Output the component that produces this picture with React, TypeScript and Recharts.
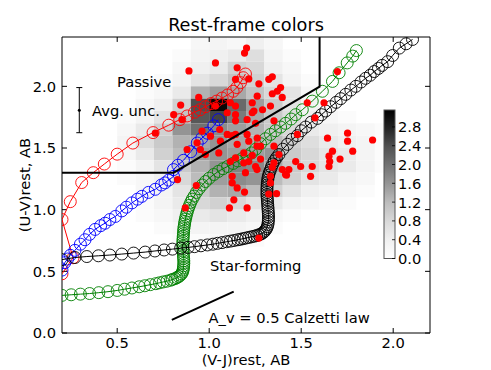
import {
  ScatterChart,
  XAxis,
  YAxis,
  Scatter,
  ReferenceArea,
  ReferenceLine,
  ErrorBar,
} from "recharts";

const FONT = "DejaVu Sans";

const xTicks = [0.5, 1.0, 1.5, 2.0];
const yTicks = [0.0, 0.5, 1.0, 1.5, 2.0];
const xDomain = [0.2, 2.2];
const yDomain = [0, 2.4];
const cbarTicks = [0.0, 0.4, 0.8, 1.2, 1.6, 2.0, 2.4, 2.8];
const cbarMax = 3.16;

// 2D histogram: lower cell edges, cell size 0.1
const histX = [0.5, 0.6, 0.7, 0.8, 0.9, 1.0, 1.1, 1.2, 1.3, 1.4, 1.5, 1.6, 1.7, 1.8, 1.9];
const histY = [2.3, 2.2, 2.1, 2.0, 1.9, 1.8, 1.7, 1.6, 1.5, 1.4, 1.3, 1.2, 1.1, 1.0, 0.9, 0.8, 0.7];
const histCounts = [
  [0, 0, 0, 0, 0.2, 0.3, 0.2, 0.4, 0.2, 0, 0, 0, 0, 0, 0],
  [0, 0, 0, 0.1, 0.3, 0.4, 0.5, 0.7, 0.3, 0.1, 0, 0, 0, 0, 0],
  [0, 0, 0, 0.2, 0.4, 0.5, 0.9, 0.8, 0.4, 0.2, 0, 0, 0, 0, 0],
  [0, 0, 0.1, 0.3, 0.6, 0.8, 1.1, 0.9, 0.6, 0.3, 0.1, 0, 0, 0, 0],
  [0, 0.1, 0.2, 0.5, 1.3, 1.5, 1.4, 1.1, 0.8, 0.6, 0.2, 0.1, 0, 0, 0],
  [0, 0.2, 0.4, 0.9, 2.4, 3.1, 2.1, 1.5, 1.0, 0.6, 0.3, 0.1, 0, 0, 0],
  [0.1, 0.3, 0.6, 1.1, 2.3, 2.5, 1.9, 1.4, 1.0, 0.7, 0.4, 0.2, 0.1, 0, 0],
  [0.2, 0.5, 0.9, 1.6, 2.0, 1.7, 1.5, 1.3, 1.0, 0.8, 0.5, 0.4, 0.3, 0.2, 0.1],
  [0.3, 0.7, 1.0, 1.3, 1.4, 1.6, 1.4, 1.3, 1.2, 0.9, 0.7, 0.5, 0.4, 0.3, 0.1],
  [0.2, 0.5, 0.9, 1.2, 1.5, 1.6, 1.5, 1.5, 1.6, 1.0, 0.8, 0.6, 0.5, 0.3, 0.1],
  [0.1, 0.3, 0.6, 1.0, 1.3, 1.6, 1.8, 1.7, 1.4, 1.0, 0.8, 0.6, 0.5, 0.3, 0.1],
  [0.1, 0.2, 0.4, 0.8, 1.2, 1.5, 1.7, 1.6, 1.2, 0.9, 0.6, 0.5, 0.3, 0.2, 0],
  [0, 0.2, 0.3, 0.6, 1.0, 1.3, 1.4, 1.2, 0.9, 0.6, 0.4, 0.3, 0.2, 0.1, 0],
  [0, 0.1, 0.3, 0.5, 0.8, 0.9, 0.8, 0.6, 0.5, 0.3, 0.2, 0.1, 0.1, 0, 0],
  [0, 0.1, 0.2, 0.4, 0.5, 0.6, 0.5, 0.4, 0.2, 0.1, 0, 0, 0, 0, 0],
  [0, 0, 0.1, 0.2, 0.3, 0.3, 0.3, 0.2, 0.1, 0, 0, 0, 0, 0, 0],
  [0, 0, 0, 0.1, 0.1, 0.2, 0.1, 0.1, 0, 0, 0, 0, 0, 0, 0],
];

// red galaxies
const galaxies = [
  [1.203, 2.31], [1.192, 2.27], [1.034, 2.19], [0.89, 2.125], [1.152, 2.15],
  [1.215, 2.06], [1.27, 2.02], [1.143, 2.057], [0.943, 1.91], [0.845, 1.848],
  [0.807, 1.77], [1.115, 1.867], [1.143, 1.84], [1.098, 1.786], [1.143, 1.77],
  [1.234, 1.867], [1.243, 1.8], [0.852, 1.73], [0.961, 1.637], [1.007, 1.596],
  [1.057, 1.65], [1.098, 1.61], [0.934, 1.542], [0.952, 1.488], [0.88, 1.488],
  [0.979, 1.447], [1.061, 1.555], [1.143, 1.61], [1.206, 1.61], [1.215, 1.555],
  [1.26, 1.515], [1.188, 1.46], [1.234, 1.44], [1.052, 1.46], [0.707, 1.62],
  [1.034, 1.84], [1.206, 1.73], [1.234, 1.786], [1.143, 1.72], [1.324, 2.057],
  [1.343, 2.077], [1.388, 1.99], [1.37, 1.96], [1.397, 1.91], [1.343, 1.94],
  [1.261, 1.92], [1.333, 1.84], [1.29, 1.81], [1.697, 2.12], [1.533, 1.867],
  [1.624, 1.867], [1.575, 1.745], [1.252, 1.7], [1.352, 1.72], [1.261, 1.58],
  [1.479, 1.61], [1.643, 1.58], [1.752, 1.62], [1.752, 1.555], [1.888, 1.565],
  [1.67, 1.474], [1.651, 1.434], [1.78, 1.474], [1.379, 1.447], [1.125, 1.6],
  [1.152, 1.53], [1.279, 1.515], [1.352, 1.515], [1.352, 1.38], [1.655, 1.39],
  [1.651, 1.35], [1.56, 1.35], [1.497, 1.35], [1.433, 1.325], [1.333, 1.27],
  [1.26, 1.325], [1.188, 1.38], [1.143, 1.42], [1.115, 1.39], [1.215, 1.39],
  [1.252, 1.35], [1.279, 1.41], [1.343, 1.344], [1.397, 1.325], [1.415, 1.285],
  [1.47, 1.39], [1.551, 1.27], [1.711, 1.41], [1.125, 1.27], [1.152, 1.176],
  [1.192, 1.143], [1.125, 1.217], [1.134, 1.08], [1.333, 1.217], [1.324, 1.127],
  [1.366, 1.13], [1.27, 0.77], [1.206, 1.014], [1.11, 1.014], [0.87, 1.014],
  [0.828, 1.244], [0.93, 1.195], [1.197, 1.3], [1.42, 1.28],
];

// model tracks
const redTrack = [
  [0.2, 0.48], [0.26, 0.61], [0.2, 0.92], [0.245, 1.065], [0.307, 1.22],
  [0.37, 1.3], [0.43, 1.37], [0.5, 1.45], [0.585, 1.54], [0.695, 1.625],
  [0.78, 1.685], [0.84, 1.73], [0.88, 1.76], [0.92, 1.79], [0.95, 1.81],
  [0.98, 1.835], [1.01, 1.86], [1.04, 1.88], [1.07, 1.905], [1.1, 1.93],
  [1.13, 1.96], [1.15, 1.99], [1.17, 2.03], [1.185, 2.07], [1.197, 2.1],
];

const blueTrack = [
  [0.2, 0.51], [0.215, 0.57], [0.23, 0.6], [0.245, 0.63], [0.27, 0.67],
  [0.3, 0.72], [0.325, 0.756], [0.35, 0.8], [0.38, 0.84], [0.41, 0.87],
  [0.434, 0.89], [0.46, 0.92], [0.49, 0.945], [0.525, 0.99], [0.55, 1.02],
  [0.58, 1.055], [0.61, 1.085], [0.634, 1.108], [0.67, 1.14], [0.707, 1.165],
  [0.74, 1.2], [0.76, 1.217], [0.78, 1.24], [0.806, 1.27], [0.806, 1.325],
  [0.83, 1.36], [0.86, 1.4], [0.9, 1.47], [0.935, 1.54], [0.96, 1.58],
  [0.99, 1.62], [1.025, 1.68], [1.05, 1.73],
];

const greenTrack = [
  [0.2, 0.305], [0.25, 0.31], [0.3, 0.315], [0.35, 0.32], [0.4, 0.327],
  [0.45, 0.335], [0.5, 0.345], [0.54, 0.355], [0.58, 0.365], [0.62, 0.375],
  [0.65, 0.383], [0.68, 0.392], [0.71, 0.4], [0.73, 0.407], [0.75, 0.414],
  [0.77, 0.42], [0.79, 0.428], [0.8, 0.434], [0.815, 0.441], [0.825, 0.449],
  [0.835, 0.458], [0.843, 0.468], [0.85, 0.48], [0.855, 0.494], [0.858, 0.51],
  [0.86, 0.527], [0.861, 0.545], [0.862, 0.565], [0.862, 0.585], [0.861, 0.605],
  [0.86, 0.625], [0.859, 0.645], [0.858, 0.665], [0.857, 0.685], [0.857, 0.705],
  [0.857, 0.725], [0.857, 0.745], [0.858, 0.765], [0.859, 0.785], [0.86, 0.805],
  [0.861, 0.825], [0.862, 0.845], [0.864, 0.865], [0.866, 0.885], [0.868, 0.905],
  [0.871, 0.925], [0.874, 0.945], [0.878, 0.968], [0.882, 0.99], [0.887, 1.012],
  [0.893, 1.035], [0.9, 1.06], [0.908, 1.085], [0.918, 1.11], [0.93, 1.14],
  [0.945, 1.17], [0.962, 1.2], [0.98, 1.228], [1.0, 1.255], [1.025, 1.285],
  [1.05, 1.31], [1.075, 1.332], [1.1, 1.35], [1.13, 1.375], [1.155, 1.395],
  [1.18, 1.415], [1.205, 1.435], [1.23, 1.46], [1.252, 1.49], [1.279, 1.535],
  [1.306, 1.575], [1.333, 1.61], [1.36, 1.64], [1.388, 1.67], [1.415, 1.7],
  [1.445, 1.735], [1.47, 1.77], [1.506, 1.81], [1.56, 1.88], [1.615, 1.96],
  [1.67, 2.04], [1.706, 2.11], [1.75, 2.19], [1.78, 2.245], [1.8, 2.29],
];

const blackTrack = [
  [0.2, 0.595], [0.27, 0.612], [0.335, 0.62], [0.398, 0.626], [0.46, 0.632],
  [0.525, 0.64], [0.589, 0.648], [0.652, 0.656], [0.705, 0.665], [0.755, 0.673],
  [0.8, 0.68], [0.845, 0.688], [0.885, 0.694], [0.92, 0.7], [0.955, 0.707],
  [0.99, 0.714], [1.02, 0.72], [1.045, 0.727], [1.07, 0.733], [1.095, 0.74],
  [1.115, 0.745], [1.135, 0.75], [1.155, 0.756], [1.17, 0.76], [1.185, 0.765],
  [1.2, 0.77], [1.215, 0.775], [1.23, 0.78], [1.245, 0.785], [1.258, 0.79],
  [1.27, 0.796], [1.28, 0.802], [1.29, 0.81], [1.298, 0.82], [1.305, 0.832],
  [1.311, 0.846], [1.316, 0.862], [1.319, 0.88], [1.321, 0.9], [1.322, 0.92],
  [1.322, 0.94], [1.322, 0.96], [1.321, 0.98], [1.32, 1.0], [1.319, 1.02],
  [1.318, 1.04], [1.317, 1.06], [1.316, 1.08], [1.315, 1.1], [1.314, 1.12],
  [1.314, 1.14], [1.314, 1.16], [1.314, 1.18], [1.315, 1.2], [1.316, 1.22],
  [1.318, 1.24], [1.32, 1.26], [1.323, 1.28], [1.327, 1.3], [1.332, 1.32],
  [1.338, 1.345], [1.345, 1.37], [1.354, 1.395], [1.365, 1.42], [1.379, 1.447],
  [1.4, 1.49], [1.425, 1.53], [1.45, 1.57], [1.479, 1.6], [1.5, 1.64],
  [1.524, 1.67], [1.555, 1.71], [1.588, 1.74], [1.61, 1.77], [1.633, 1.8],
  [1.66, 1.835], [1.69, 1.87], [1.715, 1.9], [1.742, 1.935], [1.77, 1.97],
  [1.797, 2.0], [1.825, 2.035], [1.85, 2.065], [1.875, 2.09], [1.897, 2.12],
  [1.92, 2.145], [1.94, 2.17], [1.97, 2.2], [1.997, 2.25], [2.033, 2.31],
  [2.07, 2.345], [2.105, 2.38],
];

// UVJ passive selection box and reddening vector
const boxLine = [[0.2, 1.3], [0.807, 1.3], [1.6, 1.998], [1.6, 2.4]];
const avVector = [[0.797, 0.106], [1.133, 0.336]];
const avgUnc = [{ x: 0.294, y: 1.807, err: 0.183 }];

const toPts = (arr: number[][]) => arr.map(([x, y]) => ({ x, y }));

const greyStops = [255, 240, 217, 189, 150, 115, 82, 37, 0];
const grey = (v: number) => {
  const t = Math.min(1, Math.max(0, v / cbarMax)) * 8;
  const i = Math.min(7, Math.floor(t));
  const g = Math.round(greyStops[i] + (greyStops[i + 1] - greyStops[i]) * (t - i));
  return `rgb(${g},${g},${g})`;
};

const openCircle = (color: string, r: number) => (p: any) =>
  <circle cx={p.cx} cy={p.cy} r={r} fill="none" stroke={color} strokeWidth={0.9} />;

const dot = (p: any) => <circle cx={p.cx} cy={p.cy} r={3.6} fill="#ff0000" />;
const nothing = () => <g />;

const tickStyle = { fill: "#000", fontSize: 14.7, fontFamily: FONT };

// inward tick length on the mirrored top/right spines, in data units (~5px)
const TICK_DX = 0.027;
const TICK_DY = 0.04;

// colorbar geometry (pixels)
const CB_X = 384;
const CB_W = 11;
const CB_TOP = 110;
const CB_BOT = 258.5;
const cbY = (v: number) => CB_BOT - (v / cbarMax) * (CB_BOT - CB_TOP);

export default function App() {
  const cells: { x: number; y: number; v: number }[] = [];
  histY.forEach((y, r) =>
    histX.forEach((x, c) => {
      const v = histCounts[r][c];
      if (v > 0) cells.push({ x, y, v });
    })
  );

  return (
    <div style={{ position: "absolute", left: 0, top: 0, width: 491, height: 370, background: "#fff" }}>
      <ScatterChart width={491} height={370} margin={{ top: 37, right: 61, bottom: 0, left: 0 }}>
        <XAxis
          type="number"
          dataKey="x"
          domain={xDomain}
          ticks={xTicks}
          tickFormatter={(v: number) => v.toFixed(1)}
          allowDataOverflow
          height={37}
          tickSize={-5}
          tickMargin={10}
          tick={tickStyle}
          stroke="#000"
        />
        <YAxis
          type="number"
          dataKey="y"
          domain={yDomain}
          ticks={yTicks}
          tickFormatter={(v: number) => v.toFixed(1)}
          allowDataOverflow
          width={62}
          tickSize={-5}
          tickMargin={11}
          tick={tickStyle}
          stroke="#000"
        />

        {cells.map((c) => (
          <ReferenceArea
            key={`${c.x}-${c.y}`}
            x1={c.x}
            x2={c.x + 0.1}
            y1={c.y}
            y2={c.y + 0.1}
            fill={grey(c.v)}
            fillOpacity={1}
            stroke="none"
            ifOverflow="hidden"
          />
        ))}

        <Scatter data={toPts(redTrack)} line={{ stroke: "#ff0000", strokeWidth: 1 }} lineType="joint" shape={openCircle("#ff0000", 6)} isAnimationActive={false} />
        <Scatter data={toPts(blueTrack)} line={{ stroke: "#0000ff", strokeWidth: 1 }} lineType="joint" shape={openCircle("#0000ff", 6)} isAnimationActive={false} />
        <Scatter data={toPts(greenTrack)} line={{ stroke: "#008000", strokeWidth: 1 }} lineType="joint" shape={openCircle("#008000", 6)} isAnimationActive={false} />
        <Scatter data={toPts(blackTrack)} line={{ stroke: "#000000", strokeWidth: 1 }} lineType="joint" shape={openCircle("#000000", 6)} isAnimationActive={false} />

        <Scatter data={toPts(galaxies)} shape={dot} isAnimationActive={false} />

        <Scatter data={toPts(boxLine)} line={{ stroke: "#000", strokeWidth: 2 }} lineType="joint" shape={nothing} isAnimationActive={false} />
        <Scatter data={toPts(avVector)} line={{ stroke: "#000", strokeWidth: 2 }} lineType="joint" shape={nothing} isAnimationActive={false} />

        <Scatter data={avgUnc} shape={(p: any) => <circle cx={p.cx} cy={p.cy} r={1.5} fill="#000" />} isAnimationActive={false}>
          <ErrorBar dataKey="err" direction="y" width={3} stroke="#000" strokeWidth={1} />
        </Scatter>

        {/* top and right spines with inward ticks */}
        <ReferenceLine y={yDomain[1]} stroke="#000" strokeWidth={1} ifOverflow="visible" />
        <ReferenceLine x={xDomain[1]} stroke="#000" strokeWidth={1} ifOverflow="visible" />
        {xTicks.map((t) => (
          <ReferenceLine
            key={`tx${t}`}
            segment={[{ x: t, y: yDomain[1] }, { x: t, y: yDomain[1] - TICK_DY }]}
            stroke="#000"
            ifOverflow="visible"
          />
        ))}
        {yTicks.map((t) => (
          <ReferenceLine
            key={`ty${t}`}
            segment={[{ x: xDomain[1], y: t }, { x: xDomain[1] - TICK_DX, y: t }]}
            stroke="#000"
            ifOverflow="visible"
          />
        ))}
      </ScatterChart>

      <svg width={491} height={370} style={{ position: "absolute", left: 0, top: 0, pointerEvents: "none" }} fontFamily={FONT}>
        <text x={246} y={31} fontSize={17.7} textAnchor="middle">Rest-frame colors</text>
        <text x={246} y={365} fontSize={14.7} textAnchor="middle">(V-J)rest, AB</text>
        <text x={24} y={185} fontSize={14.7} textAnchor="middle" dominantBaseline="central" transform="rotate(-90 24 185)">(U-V)rest, AB</text>

        <text x={117} y={87} fontSize={14.7}>Passive</text>
        <text x={92} y={115.5} fontSize={14.7}>Avg. unc.</text>
        <text x={210} y={271} fontSize={14.7}>Star-forming</text>
        <text x={208.5} y={322.5} fontSize={14.7}>A_v = 0.5 Calzetti law</text>

        <defs>
          <linearGradient id="cbar" x1="0" y1="1" x2="0" y2="0">
            {greyStops.map((g, i) => (
              <stop key={i} offset={i / 8} stopColor={`rgb(${g},${g},${g})`} />
            ))}
          </linearGradient>
        </defs>
        <rect x={CB_X} y={CB_TOP} width={CB_W} height={CB_BOT - CB_TOP} fill="url(#cbar)" stroke="#555" strokeWidth={1} />
        {cbarTicks.map((t) => (
          <g key={t}>
            <line x1={CB_X + CB_W - 3} x2={CB_X + CB_W} y1={cbY(t)} y2={cbY(t)} stroke="#000" strokeWidth={0.8} />
            <text x={CB_X + 14} y={cbY(t)} fontSize={14.7} dominantBaseline="central">{t.toFixed(1)}</text>
          </g>
        ))}
      </svg>
    </div>
  );
}
